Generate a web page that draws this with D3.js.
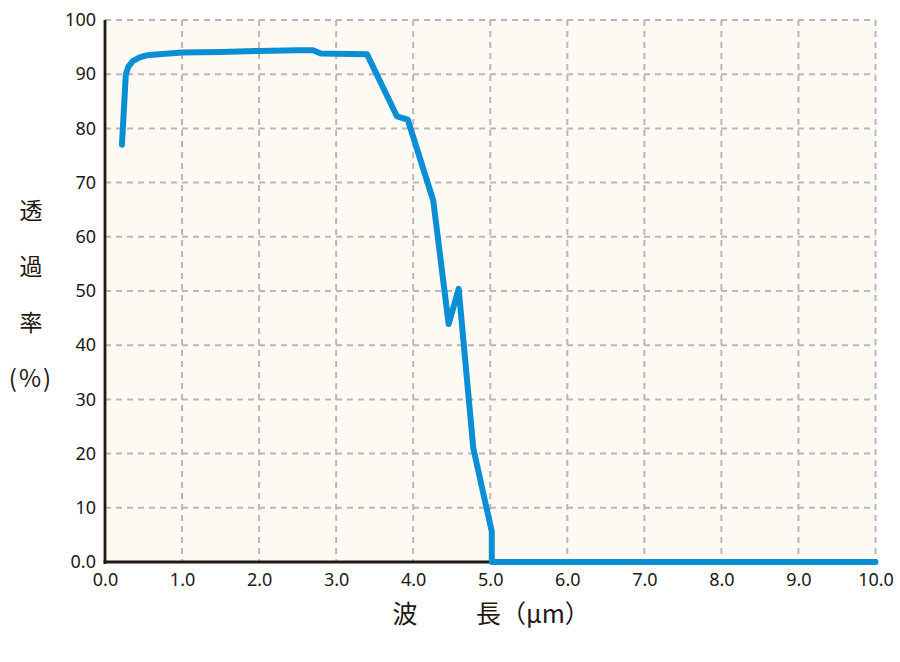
<!DOCTYPE html>
<html>
<head>
<meta charset="utf-8">
<script src="https://cdn.jsdelivr.net/npm/d3@7.9.0/dist/d3.min.js"></script>
<style>
  body { margin: 0; background: #ffffff; }
  text { font-family: "Noto Sans CJK JP", "Noto Sans", sans-serif; fill: #231815; }
</style>
</head>
<body>
<div id="chart"></div>
<script>
// wavelength (µm) and transmittance (%)
const wavelength    = [0.22, 0.27, 0.30, 0.36, 0.45, 0.55, 0.70, 1.0, 1.5, 2.0, 2.5, 2.7, 2.8, 3.4, 3.79, 3.93, 4.26, 4.46, 4.59, 4.78, 5.02, 5.02, 10.0];
const transmittance = [77.0, 89.9, 91.3, 92.4, 93.1, 93.5, 93.7, 94.0, 94.1, 94.3, 94.4, 94.4, 93.8, 93.7, 82.2, 81.6, 66.7, 43.9, 50.4, 21.0, 5.6, 0, 0];

const xTicks = [0, 1, 2, 3, 4, 5, 6, 7, 8, 9, 10];
const yTicks = [0, 10, 20, 30, 40, 50, 60, 70, 80, 90, 100];
const yLabelChars = ["透", "過", "率", "(%)"];

const width = 900, height = 662;
const margin = { top: 20, right: 24.5, bottom: 100, left: 105 };

const svg = d3.select("#chart").append("svg")
  .attr("width", width)
  .attr("height", height);

const x = d3.scaleLinear().domain([0, 10]).range([margin.left, width - margin.right]);
const y = d3.scaleLinear().domain([0, 100]).range([height - margin.bottom, margin.top]);

// plot background
svg.append("rect")
  .attr("x", x(0)).attr("y", y(100))
  .attr("width", x(10) - x(0)).attr("height", y(0) - y(100))
  .attr("fill", "#fdfaf4");

// dashed grid
const grid = svg.append("g")
  .attr("stroke", "#b8b8b8")
  .attr("stroke-width", 2)
  .attr("stroke-dasharray", "6,5");

grid.selectAll("line.v")
  .data(xTicks.filter(d => d > 0))
  .join("line")
    .attr("class", "v")
    .attr("x1", d => x(d)).attr("x2", d => x(d))
    .attr("y1", y(100)).attr("y2", y(0));

grid.selectAll("line.h")
  .data(yTicks.filter(d => d > 0))
  .join("line")
    .attr("class", "h")
    .attr("x1", x(0)).attr("x2", x(10))
    .attr("y1", d => y(d)).attr("y2", d => y(d));

// axes
const xAxis = svg.append("g")
  .attr("transform", `translate(0,${y(0)})`)
  .call(d3.axisBottom(x).tickValues(xTicks).tickSize(0).tickPadding(11)
    .tickFormat(d3.format(".1f")));
const yAxis = svg.append("g")
  .attr("transform", `translate(${x(0)},0)`)
  .call(d3.axisLeft(y).tickValues(yTicks).tickSize(0).tickPadding(9)
    .tickFormat(d => d === 0 ? "0.0" : d));

[xAxis, yAxis].forEach(g => {
  g.select(".domain").attr("stroke", "#231815").attr("stroke-width", 2.8);
  g.selectAll("text")
    .style("font-family", "'Noto Sans', sans-serif")
    .style("font-size", "18px")
    .attr("fill", "#231815");
});
yAxis.select(".domain").attr("d", `M0,${y(100)}V${y(0) + 2}`);
xAxis.select(".domain").attr("d", `M${x(0) - 1.4},0H${x(10)}`);

// data line
const pts = wavelength.map((w, i) => [w, transmittance[i]]);
svg.append("path")
  .datum(pts)
  .attr("fill", "none")
  .attr("stroke", "#0a8fd6")
  .attr("stroke-width", 6)
  .attr("stroke-linejoin", "round")
  .attr("stroke-linecap", "round")
  .attr("d", d3.line().x(d => x(d[0])).y(d => y(d[1])));

// y title, stacked characters
svg.append("g").selectAll("text")
  .data(yLabelChars)
  .join("text")
    .attr("x", 31)
    .attr("y", (d, i) => 219 + i * 56)
    .attr("text-anchor", "middle")
    .style("font-size", (d, i) => i === 3 ? "24px" : "23px")
    .style("letter-spacing", (d, i) => i === 3 ? "2px" : "0px")
    .text(d => d);

// x title
svg.append("text")
  .attr("x", 405).attr("y", 623)
  .attr("text-anchor", "middle")
  .style("font-size", "25px")
  .text("波");
svg.append("text")
  .attr("x", 476).attr("y", 623)
  .style("font-size", "25px")
  .text("長（μm）");
</script>
</body>
</html>
